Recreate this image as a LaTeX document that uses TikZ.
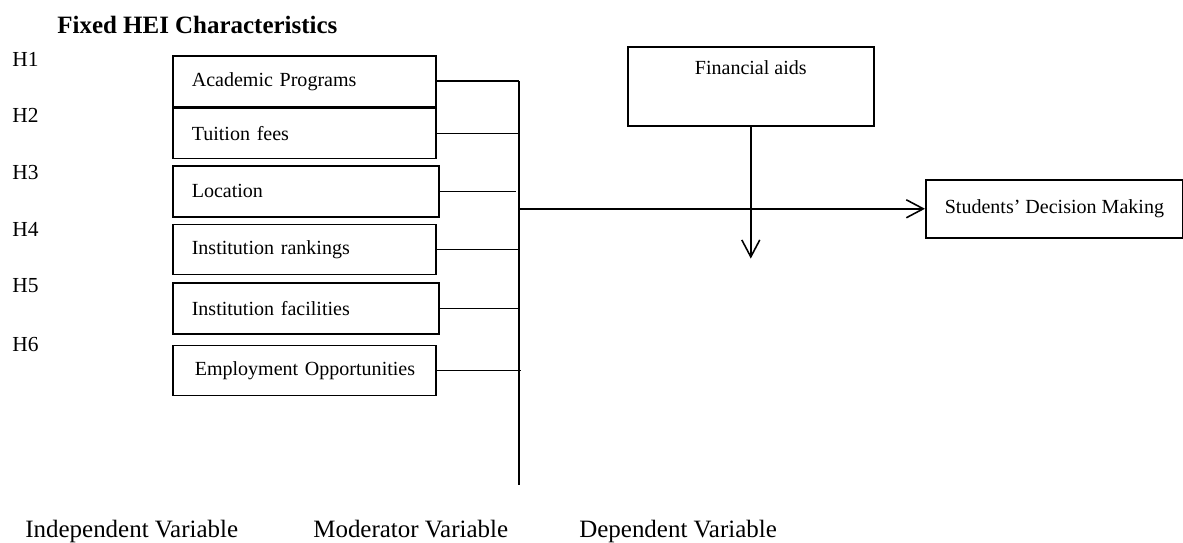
\documentclass[tikz,border=0pt]{standalone}
\usepackage{fontspec}
\setmainfont{Liberation Serif}
\usetikzlibrary{arrows.meta,positioning}
\tikzset{
  factor/.style={
    draw=black,
    line width=0.9pt,
    font=\fontsize{11.4}{13}\selectfont,
    inner xsep=0.38cm,
    text width=4.5cm,
    align=left,
    minimum height=1.02cm
  },
  hyp/.style={font=\fontsize{12.2}{14}\selectfont, inner sep=0},
  varlabel/.style={font=\fontsize{14.2}{16}\selectfont, inner sep=0},
  conn/.style={line width=0.9pt},
  barb/.style={-{Straight Barb[length=0.34cm,width=0.36cm]}}
}

\begin{document}
\begin{tikzpicture}
\useasboundingbox (0,0) rectangle (23.66,-10.86);
\node[varlabel, font=\fontsize{14.2}{16}\selectfont\bfseries, anchor=base west] (title) at (1.14,-0.68) {Fixed HEI Characteristics};
\foreach [count = \i] \y in {-1.34,-2.46,-3.6,-4.74,-5.86,-7.04}{
\node[hyp, anchor=base west] (h\i) at (0.24,\y) {H\i};
}
% characteristics
\node[factor, anchor=north west] (acad) at (3.44,-1.1) {Academic Programs};
\node[factor, anchor=north west, minimum height=1.0cm] (fees) at (acad.south west) {Tuition fees};
\node[factor, below=0.12cm of fees.south west, anchor=north west, text width=4.56cm] (loc) {Location};
\node[factor, below=0.12cm of loc.south west, anchor=north west, minimum height=1.0cm] (rank) {Institution rankings};
\node[factor, below=0.14cm of rank.south west, anchor=north west, text width=4.56cm] (facil) {Institution facilities};
\node[factor, below=0.2cm of facil.south west, anchor=north west, minimum height=1.0cm] (emp) {\hspace*{0.06cm}Employment Opportunities};
% moderator and outcome
\node[factor, anchor=north west, align=center, text width=, minimum width=4.92cm, inner ysep=0, text height=0.56cm, text depth=1.02cm] (aid) at (12.54,-0.92) {Financial aids};
\node[factor, anchor=north west, align=center, text width=, minimum width=5.14cm, minimum height=1.16cm] (dec) at (18.5,-3.58) {Students’ Decision Making};
% bus
\coordinate (busx) at (10.38,0);
\coordinate (bustop) at (acad.east -| busx);
\coordinate (busbot) at (10.38,-9.7);
\draw[conn] (bustop) -- (busbot);
\foreach \b in {acad,fees,rank,facil}{
\draw[conn] (\b.east) -- (\b.east -| busx);
}
\draw[conn, shorten >=0.06cm] (loc.east) -- (loc.east -| busx);
\draw[conn, shorten >=-0.04cm] (emp.east) -- (emp.east -| busx);
\draw[conn, barb] (busx |- dec.west) -- (dec.west);
\coordinate[below=2.64cm of aid.south] (aidtip);
\draw[conn, barb] (aid.south) -- (aidtip);
% variable types
\node[varlabel, anchor=base west] (indep) at (0.5,-10.74) {Independent Variable};
\node[varlabel, anchor=base west] (moder) at (6.26,-10.74) {Moderator Variable};
\node[varlabel, anchor=base west] (depen) at (11.58,-10.74) {Dependent Variable};
\end{tikzpicture}
\end{document}
